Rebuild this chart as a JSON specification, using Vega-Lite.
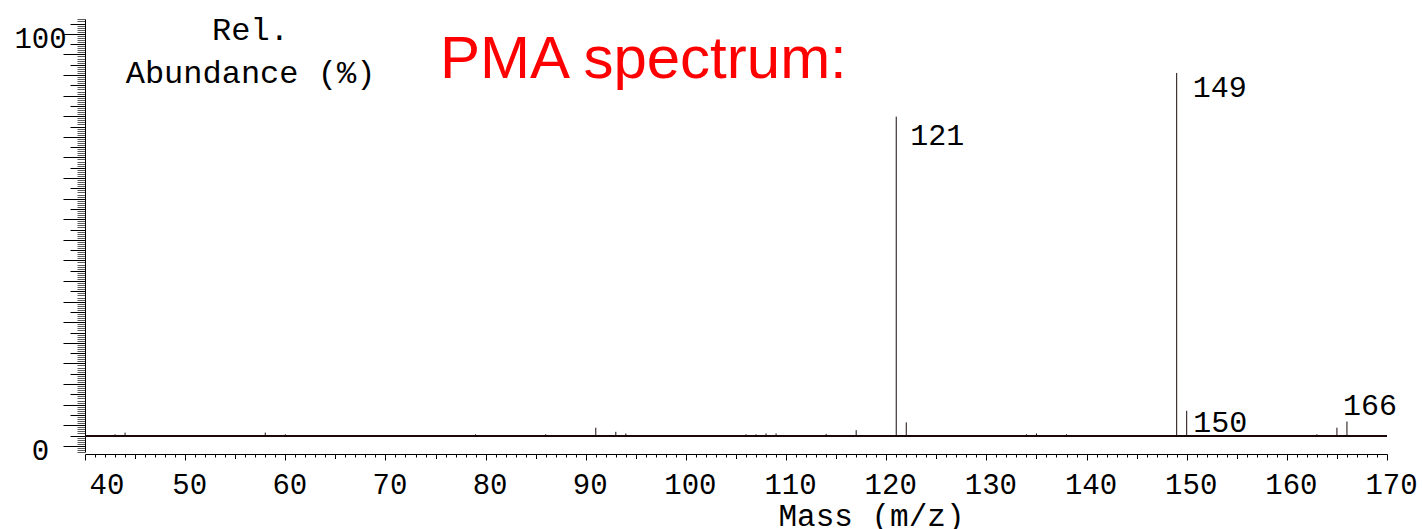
{
  "$schema": "https://vega.github.io/schema/vega-lite/v6.json",
  "autosize": {"type": "none"},
  "width": 1302,
  "height": 433,
  "padding": {"left": 85, "top": 19, "right": 35, "bottom": 77},
  "background": "white",
  "config": {"view": {"stroke": null}},
  "title": {
    "text": "PMA spectrum:",
    "color": "#ff0000",
    "font": "Liberation Sans",
    "fontSize": 60,
    "fontWeight": "normal",
    "anchor": "start",
    "frame": "group",
    "baseline": "alphabetic",
    "offset": 0,
    "dx": 355,
    "dy": 128
  },
  "data": {
    "values": [
      {"mz": 43, "abundance": 2.8},
      {"mz": 44, "abundance": 3.2},
      {"mz": 55, "abundance": 2.55},
      {"mz": 58, "abundance": 3.2},
      {"mz": 60, "abundance": 2.8},
      {"mz": 73, "abundance": 2.55},
      {"mz": 75, "abundance": 2.55},
      {"mz": 79, "abundance": 2.8},
      {"mz": 85, "abundance": 2.55},
      {"mz": 86, "abundance": 2.8},
      {"mz": 88, "abundance": 2.55},
      {"mz": 91, "abundance": 4.4},
      {"mz": 92, "abundance": 2.55},
      {"mz": 93, "abundance": 3.4},
      {"mz": 94, "abundance": 3.0},
      {"mz": 96, "abundance": 2.55},
      {"mz": 98, "abundance": 2.55},
      {"mz": 105, "abundance": 2.55},
      {"mz": 106, "abundance": 2.8},
      {"mz": 107, "abundance": 2.8},
      {"mz": 108, "abundance": 3.0},
      {"mz": 109, "abundance": 3.0},
      {"mz": 114, "abundance": 2.9},
      {"mz": 117, "abundance": 3.8},
      {"mz": 119, "abundance": 2.55},
      {"mz": 121, "abundance": 79.9, "label": "121"},
      {"mz": 122, "abundance": 5.7},
      {"mz": 129, "abundance": 2.55},
      {"mz": 134, "abundance": 2.8},
      {"mz": 135, "abundance": 3.0},
      {"mz": 136, "abundance": 2.55},
      {"mz": 138, "abundance": 2.8},
      {"mz": 145, "abundance": 2.55},
      {"mz": 147, "abundance": 2.55},
      {"mz": 149, "abundance": 90.5, "label": "149"},
      {"mz": 150, "abundance": 8.5, "label": "150"},
      {"mz": 151, "abundance": 2.55},
      {"mz": 157, "abundance": 2.55},
      {"mz": 161, "abundance": 2.55},
      {"mz": 163, "abundance": 2.8},
      {"mz": 165, "abundance": 4.4},
      {"mz": 166, "abundance": 5.9, "label": "166"},
      {"mz": 167, "abundance": 2.55}
    ]
  },
  "layer": [
    {
      "mark": {"type": "rule", "color": "#1a0a0a", "strokeWidth": 1},
      "encoding": {
        "x": {
          "field": "mz",
          "type": "quantitative",
          "scale": {"domain": [40, 170], "nice": false, "zero": false},
          "axis": {
            "title": "Mass (m/z)",
            "titleFont": "Liberation Mono",
            "titleFontSize": 31,
            "titleFontWeight": "normal",
            "titleColor": "black",
            "titleX": 786,
            "titleY": 62,
            "titleAlign": "center",
            "titleBaseline": "middle",
            "tickCount": 130,
            "labelExpr": "datum.value % 10 === 0 ? datum.label : ''",
            "labelFont": "Liberation Mono",
            "labelFontSize": 29,
            "labelColor": "black",
            "labelAlign": {"condition": {"test": "datum.value === 40", "value": "left"}, "value": "center"},
            "labelOffset": 4,
            "labelBaseline": "alphabetic",
            "labelPadding": 33,
            "labelOverlap": false,
            "labelFlush": false,
            "tickSize": {"condition": [{"test": "datum.value % 10 === 0", "value": 6}, {"test": "datum.value % 5 === 0", "value": 4.5}], "value": 3},
            "tickColor": "black",
            "domainColor": "black",
            "offset": 2,
            "grid": false
          }
        },
        "y": {
          "field": "abundance",
          "type": "quantitative",
          "scale": {"domain": [-1.5, 103.6], "nice": false, "zero": false},
          "axis": {
            "title": ["Rel.", "Abundance (%)"],
            "titleAngle": 0,
            "titleX": 165,
            "titleY": 20,
            "titleAlign": "center",
            "titleBaseline": "alphabetic",
            "titleFont": "Liberation Mono",
            "titleFontSize": 32,
            "titleFontWeight": "normal",
            "titleLineHeight": 43,
            "titleColor": "black",
            "tickCount": 210,
            "labelExpr": "datum.value === 0 ? '0' : (datum.value === 100 ? '100' : '')",
            "tickSize": {"condition": [{"test": "datum.value % 5 === 0", "value": 22}, {"test": "datum.value % 2.5 === 0", "value": 15}], "value": 8},
            "tickColor": {"condition": {"test": "datum.value % 2.5 === 0", "value": "black"}, "value": "#5a5a5a"},
            "labelAlign": "center",
            "labelBaseline": "middle",
            "labelPadding": 23,
            "labelOffset": 5,
            "labelFont": "Liberation Mono",
            "labelFontSize": 29,
            "labelColor": "black",
            "labelOverlap": false,
            "domainColor": "black",
            "grid": false
          }
        },
        "y2": {"datum": 2.3}
      }
    },
    {
      "mark": {"type": "rule", "color": "#1a0a0a", "strokeWidth": 1},
      "encoding": {"y": {"datum": 2.3}}
    },
    {
      "transform": [{"filter": "datum.label === '121'"}],
      "mark": {"type": "text", "font": "Liberation Mono", "fontSize": 30, "color": "black", "align": "left", "baseline": "alphabetic", "dx": 14, "dy": 28},
      "encoding": {"x": {"field": "mz", "type": "quantitative"}, "y": {"field": "abundance", "type": "quantitative"}, "text": {"field": "label"}}
    },
    {
      "transform": [{"filter": "datum.label === '149'"}],
      "mark": {"type": "text", "font": "Liberation Mono", "fontSize": 30, "color": "black", "align": "left", "baseline": "alphabetic", "dx": 16, "dy": 24},
      "encoding": {"x": {"field": "mz", "type": "quantitative"}, "y": {"field": "abundance", "type": "quantitative"}, "text": {"field": "label"}}
    },
    {
      "transform": [{"filter": "datum.label === '150'"}],
      "mark": {"type": "text", "font": "Liberation Mono", "fontSize": 30, "color": "black", "align": "left", "baseline": "alphabetic", "dx": 6.5, "dy": 21},
      "encoding": {"x": {"field": "mz", "type": "quantitative"}, "y": {"field": "abundance", "type": "quantitative"}, "text": {"field": "label"}}
    },
    {
      "transform": [{"filter": "datum.label === '166'"}],
      "mark": {"type": "text", "font": "Liberation Mono", "fontSize": 30, "color": "black", "align": "left", "baseline": "alphabetic", "dx": -4, "dy": -7},
      "encoding": {"x": {"field": "mz", "type": "quantitative"}, "y": {"field": "abundance", "type": "quantitative"}, "text": {"field": "label"}}
    }
  ]
}
